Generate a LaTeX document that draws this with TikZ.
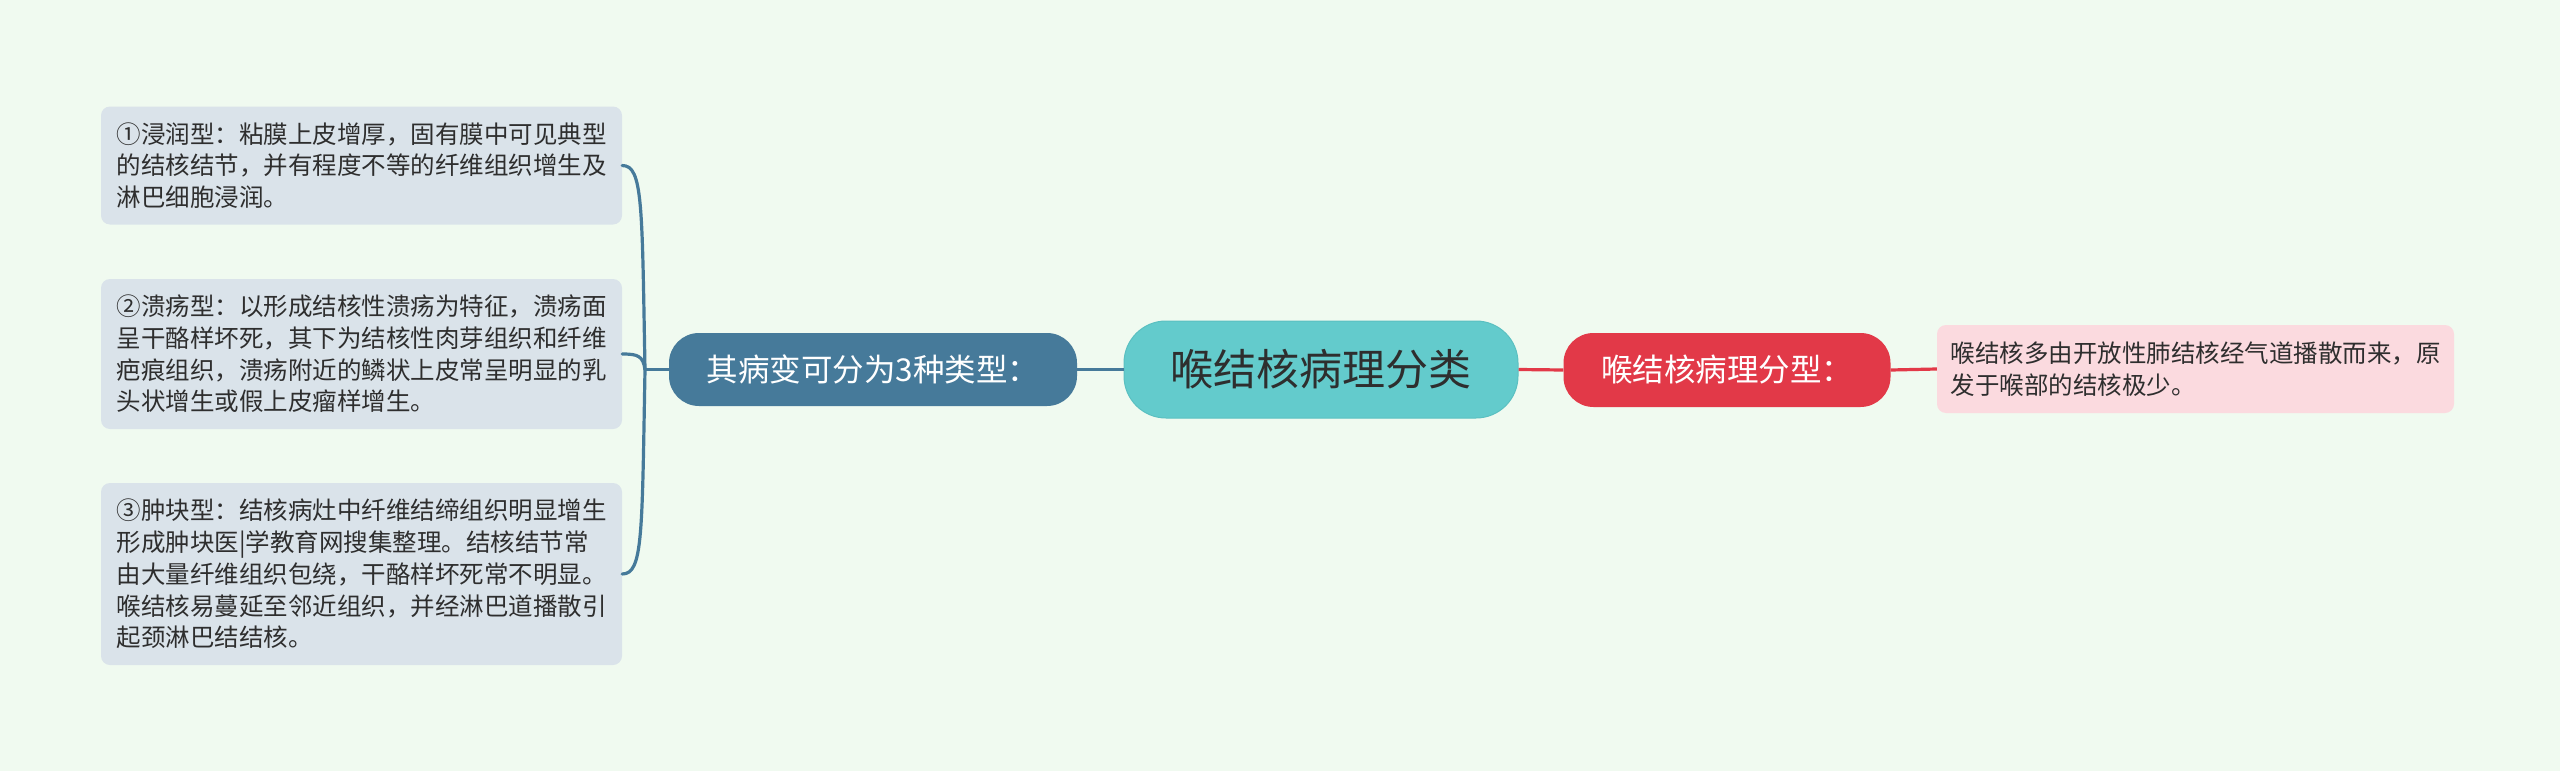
\documentclass[tikz,border=0pt]{standalone}
\usepackage{fontspec}
\setmainfont{Noto Sans CJK SC}
\definecolor{bgc}{HTML}{F0FAF0}
\definecolor{leftfill}{HTML}{DAE3EA}
\definecolor{bluenode}{HTML}{467A9A}
\definecolor{cyannode}{HTML}{63CBCC}
\definecolor{cyanedge}{HTML}{5BC0C1}
\definecolor{rednode}{HTML}{E23948}
\definecolor{pinkfill}{HTML}{FBDADF}
\definecolor{txt}{HTML}{2E2E2E}
\tikzset{
  leafbox/.style={fill=leftfill, draw=none, rounded corners=9pt, inner sep=0pt,
    align=left, text=txt, font=\fontsize{24.5}{31.7}\selectfont},
  pinkbox/.style={fill=pinkfill, draw=none, rounded corners=9pt, inner sep=0pt,
    align=left, text=txt, font=\fontsize{24.5}{31.5}\selectfont},
  bluepill/.style={fill=bluenode, draw=none, rounded corners=30pt, inner sep=0pt,
    text=white, font=\fontsize{31.5}{36}\selectfont},
  redpill/.style={fill=rednode, draw=none, rounded corners=30pt, inner sep=0pt,
    text=white, font=\fontsize{31.5}{36}\selectfont},
  rootpill/.style={fill=cyannode, draw=cyanedge, line width=1pt, rounded corners=42pt, inner sep=0pt,
    text=txt, font=\fontsize{43}{48}\selectfont},
  blueline/.style={draw=bluenode, line width=3.2pt},
  redline/.style={draw=rednode, line width=3.2pt}
}
\begin{document}
\begin{tikzpicture}[x=1pt,y=-1pt]
\useasboundingbox (0,0) rectangle (2560,771);
\fill[bgc] (0,0) rectangle (2560,771);

% central node
\node[rootpill, minimum width=394pt, minimum height=97pt] (root) at (1321,369.5) {喉结核病理分类};

% left branch
\node[bluepill, minimum width=408pt, minimum height=73pt] (types) at (873,369.5) {其病变可分为3种类型：};

\node[leafbox, minimum width=521pt, minimum height=118pt] (b1) at (361.5,165.5)
  {①浸润型：粘膜上皮增厚，固有膜中可见典型\\的结核结节，并有程度不等的纤维组织增生及\\淋巴细胞浸润。};
\node[leafbox, minimum width=521pt, minimum height=150pt] (b2) at (361.5,354)
  {②溃疡型：以形成结核性溃疡为特征，溃疡面\\呈干酪样坏死，其下为结核性肉芽组织和纤维\\疤痕组织，溃疡附近的鳞状上皮常呈明显的乳\\头状增生或假上皮瘤样增生。};
\node[leafbox, minimum width=521pt, minimum height=182pt] (b3) at (361.5,574)
  {③肿块型：结核病灶中纤维结缔组织明显增生\\形成肿块医|学教育网搜集整理。结核结节常\\由大量纤维组织包绕，干酪样坏死常不明显。\\喉结核易蔓延至邻近组织，并经淋巴道播散引\\起颈淋巴结结核。};

% right branch
\node[redpill, minimum width=327pt, minimum height=74pt] (sub) at (1727,370) {喉结核病理分型：};
\node[pinkbox, minimum width=517pt, minimum height=88pt] (note) at (2195.5,369)
  {喉结核多由开放性肺结核经气道播散而来，原\\发于喉部的结核极少。};

% connectors
\coordinate (j) at (645,369.5);
\draw[blueline] (root.west) -- (types.east);
\draw[blueline] (types.west) -- (j);
\draw[blueline, line cap=round] (j) .. controls (642,205) and (643,165.5) .. (b1.east);
\draw[blueline, line cap=round] (j) .. controls (643,356) and (638,354) .. (b2.east);
\draw[blueline, line cap=round] (j) .. controls (642,535) and (643,574) .. (b3.east);

\draw[redline] (root.east) -- (sub.west);
\draw[redline] (sub.east) -- (note.west);
\end{tikzpicture}
\end{document}
